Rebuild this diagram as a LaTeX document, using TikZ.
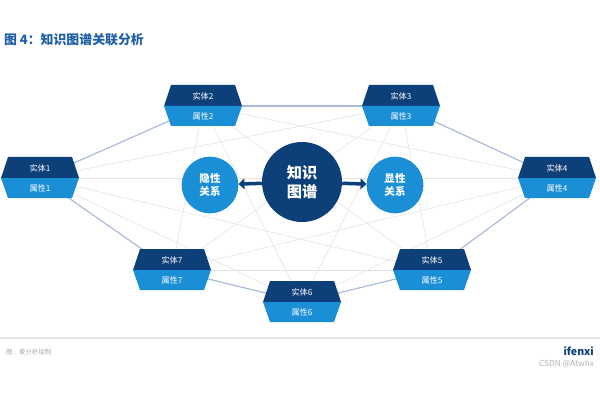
\documentclass[tikz,border=0pt]{standalone}
\usepackage{fontspec}
\setmainfont{Noto Sans CJK SC}
\usetikzlibrary{positioning,arrows.meta}
\definecolor{darkblue}{HTML}{0D3F78}
\definecolor{lightblue}{HTML}{1A8FD6}
\definecolor{titleblue}{HTML}{1F5FA8}
\definecolor{linkblue}{HTML}{A9B9DA}
\tikzset{
  faint/.style={draw=gray!22,line width=0.5pt},
  link/.style={draw=linkblue,line width=1pt},
  entitytext/.style={text=white,font=\fontsize{7}{8}\selectfont},
  relcircle/.style={circle,fill=lightblue,minimum size=1.7cm,text=white,align=center,font=\bfseries\fontsize{9}{11}\selectfont},
  bigarrow/.style={-{Triangle[length=5pt,width=9pt]},line width=3pt,draw=darkblue}
}
% entity box: name, x, y, number
\newcommand{\entitybox}[4]{
  \fill[darkblue] (#2-32,#3-21) -- (#2+32,#3-21) -- (#2+39,#3) -- (#2-39,#3) -- cycle;
  \fill[lightblue] (#2-39,#3) -- (#2+39,#3) -- (#2+32,#3+20) -- (#2-32,#3+20) -- cycle;
  \node[entitytext] (#1top) at (#2,#3-10) {实体#4};
  \node[entitytext] (#1bot) at (#2,#3+10) {属性#4};
}
\begin{document}
\begin{tikzpicture}[x=0.03cm,y=-0.03cm]
\useasboundingbox (0,0) rectangle (600,400);
\node[anchor=west,text=titleblue,font=\bfseries\fontsize{11}{13}\selectfont] (title) at (0,40) {图 4：知识图谱关联分析};

\coordinate (e1) at (40,178);
\coordinate (e2) at (203,106);
\coordinate (e3) at (401,106);
\coordinate (e4) at (557,178);
\coordinate (e5) at (432,270);
\coordinate (e6) at (302,302);
\coordinate (e7) at (172,270);

% faint web
\foreach \a/\b in {1/3,1/4,1/5,1/6,2/4,2/5,2/6,2/7,3/5,3/6,3/7,4/6,4/7,5/7}
  \draw[faint] (e\a) -- (e\b);
% outer ring
\foreach \a/\b in {1/2,2/3,3/4,4/5,5/6,6/7,7/1}
  \draw[link] (e\a) -- (e\b);

\entitybox{e1}{40}{178}{1}
\entitybox{e2}{203}{106}{2}
\entitybox{e3}{401}{106}{3}
\entitybox{e4}{557}{178}{4}
\entitybox{e5}{432}{270}{5}
\entitybox{e6}{302}{302}{6}
\entitybox{e7}{172}{270}{7}

\node[circle,fill=darkblue,minimum size=2.4cm,text=white,align=center,font=\bfseries\fontsize{13}{16}\selectfont] (kg) at (302,182) {知识\\图谱};
\node[relcircle] (hidden) at (210,185) {隐性\\关系};
\node[relcircle] (shown) at (395,185) {显性\\关系};
\draw[bigarrow] (kg) -- (hidden);
\draw[bigarrow] (kg) -- (shown);

\draw[gray!20,line width=1pt] (0,338) -- (600,338);
\node[anchor=west,text=gray!70,font=\fontsize{5.5}{6}\selectfont] (source) at (2,352) {图：爱分析绘制};
\node[anchor=east,text=darkblue,font=\bfseries\fontsize{9}{10}\selectfont] (logo) at (598,351) {ifenxi};
\node[anchor=east,text=gray!60,font=\fontsize{7}{8}\selectfont] (csdn) at (598,364) {CSDN @Atwhx};
\end{tikzpicture}
\end{document}
